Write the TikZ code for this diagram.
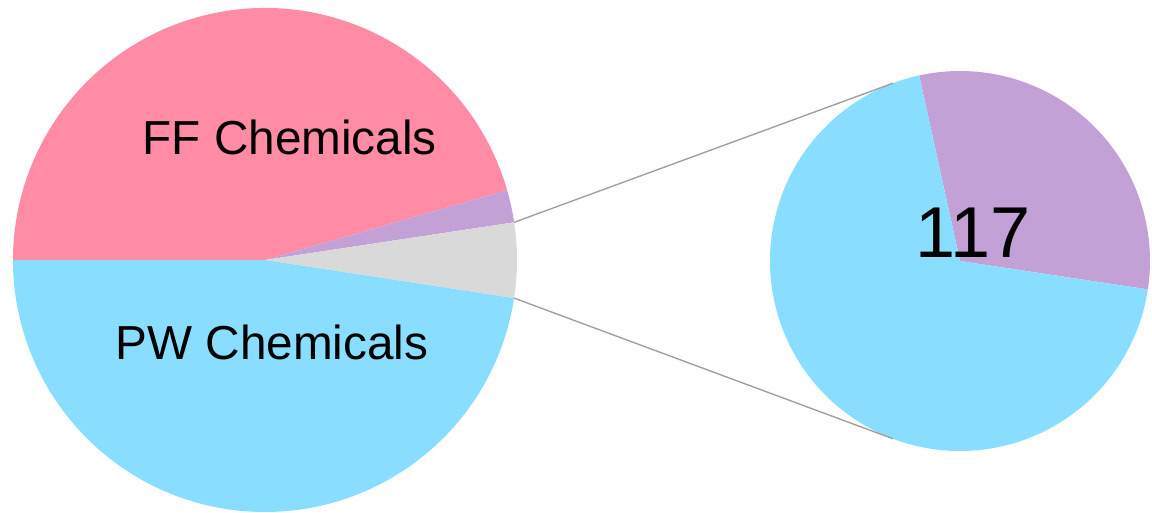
\documentclass[tikz,border=0pt]{standalone}
\usepackage{fontspec}
\setmainfont{Liberation Sans}
\usepackage{xcolor}
\usetikzlibrary{calc}
\definecolor{ffpink}{RGB}{255,139,165}
\definecolor{lilac}{RGB}{195,160,213}
\definecolor{othergray}{RGB}{217,217,217}
\definecolor{pwblue}{RGB}{137,222,255}
\definecolor{leadgray}{RGB}{160,160,160}
\tikzset{
  % Pie styles
  wedge/.style={fill=#1, draw=none},
  wedge/.default={othergray},
  leader/.style={draw=leadgray, line width=1.4pt},
  biglabel/.style={anchor=base, inner sep=0pt, font=\fontsize{47.7}{50}\selectfont},
  hugelabel/.style={anchor=base, inner sep=0pt, font=\fontsize{72}{76}\selectfont},
}

\begin{document}
\begin{tikzpicture}[x=1pt, y=1pt]
    \useasboundingbox (0,0) rectangle (1152,513);

    % Centres
    \coordinate (main) at (265,253);
    \coordinate (zoom) at (960,252);

    % Main pie
    \fill[wedge=ffpink] (main) -- ++(16.1:252) arc[start angle=16.1, end angle=180, radius=252] -- cycle;
    \fill[wedge=lilac] (main) -- ++(8.6:252) arc[start angle=8.6, end angle=16.1, radius=252] -- cycle;
    \fill[wedge] (main) -- ++(-8.7:252) arc[start angle=-8.7, end angle=8.6, radius=252] -- cycle;
    \fill[wedge=pwblue] (main) -- ++(180:252) arc[start angle=180, end angle=351.3, radius=252] -- cycle;

    % Second pie
    \fill[wedge=lilac] (zoom) -- ++(-8.6:190) arc[start angle=-8.6, end angle=102.4, radius=190] -- cycle;
    \fill[wedge=pwblue] (zoom) -- ++(102.4:190) arc[start angle=102.4, end angle=351.4, radius=190] -- cycle;

    % Leader ends
    \path (main) ++(8.6:252) coordinate (gtop);
    \path (main) ++(-8.7:252) coordinate (gbot);
    \path (zoom) ++(110.6:190) coordinate (ztop);
    \path (zoom) ++(-110.6:190) coordinate (zbot);

% === Leaders ===
    \draw[leader] (gtop) -- (ztop);
    \draw[leader] (gbot) -- (zbot);

    % Labels
    \node[biglabel] (ff) at (289.7,358) {FF Chemicals};
    \node[biglabel] (pw) at (272.1,153.7) {PW Chemicals};
    \node[hugelabel] (count) at (973.2,255.7) {117};
  \end{tikzpicture}
\end{document}
